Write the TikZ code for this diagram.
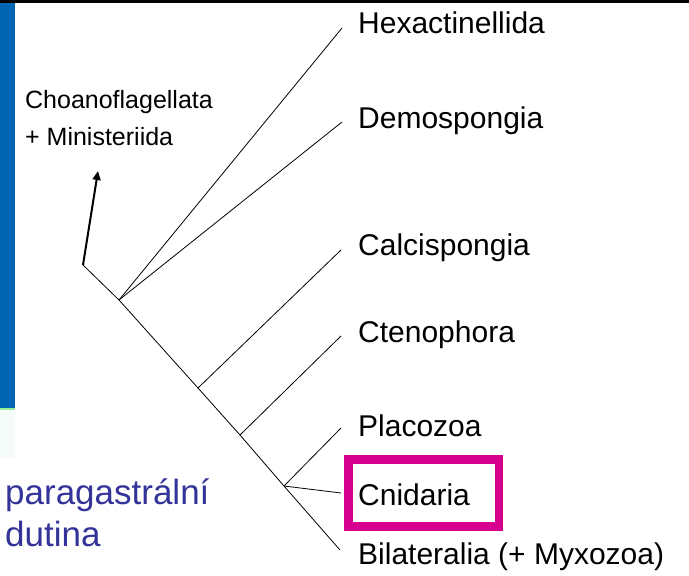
\documentclass[tikz,border=0pt]{standalone}
\usepackage{fontspec}
\setmainfont{Liberation Sans}
\usetikzlibrary{arrows.meta}

\begin{document}
\begin{tikzpicture}[x=1pt, y=-1pt]
    \definecolor{barblue}{RGB}{0,102,179}
    \definecolor{bargreen}{RGB}{150,238,150}
    \definecolor{barmint}{RGB}{246,252,250}
    \definecolor{textblue}{RGB}{51,51,153}
    \definecolor{hilite}{RGB}{214,0,143}
    \tikzset{
        taxon/.style={anchor=base west, inner sep=0pt, font=\fontsize{30}{36}\selectfont},
        outgroup/.style={anchor=base west, inner sep=0pt, font=\fontsize{25}{30}\selectfont},
        remark/.style={anchor=base west, inner sep=0pt, text=textblue, font=\fontsize{35}{42}\selectfont},
        branch/.style={black, line width=0.8pt},
    }
    \useasboundingbox (0,0) rectangle (689,576);

    % slide frame
    \fill[black] (0,0) rectangle (689,3);
    \fill[barblue] (0,3) rectangle (15,408);
    \fill[bargreen] (0,408) rectangle (15,410);
    \fill[barmint] (0,410) rectangle (15,458);

    % junctions
    \coordinate (root) at (83,265);
    \coordinate (sponges) at (119,300);
    \coordinate (j1) at (198,388);
    \coordinate (j2) at (240,435);
    \coordinate (j3) at (284,486);

    % tips
    \coordinate (out) at (98,171);
    \coordinate (t1) at (342,28);
    \coordinate (t2) at (342,122);
    \coordinate (t3) at (341,250);
    \coordinate (t4) at (341,336);
    \coordinate (t5) at (341,428);
    \coordinate (t6) at (341,493);
    \coordinate (t7) at (340,550);

    % labels
    \node[taxon] (hexa) at (358,33) {Hexactinellida};
    \node[taxon] (demo) at (358,128) {Demospongia};
    \node[taxon] (calci) at (358,255) {Calcispongia};
    \node[taxon] (cteno) at (358,342) {Ctenophora};
    \node[taxon] (placo) at (358,436) {Placozoa};
    \node[taxon] (cnid) at (358,505) {Cnidaria};
    \node[taxon] (bilat) at (358,564) {Bilateralia (+ Myxozoa)};
    \node[outgroup] (choano) at (25,108) {Choanoflagellata};
    \node[outgroup] (minis) at (25,145) {+ Ministeriida};
    \node[remark] (para) at (5,504) {paragastrální};
    \node[remark] (dutina) at (5,546) {dutina};

    % tree
    \draw[line width=2pt, -{Triangle[length=9pt, width=8pt]}] (root) -- (out);
    \draw[branch] (root) -- (sponges) -- (j1) -- (j2) -- (j3) -- (t7);
    \draw[branch] (sponges) -- (t1);
    \draw[branch] (sponges) -- (t2);
    \draw[branch] (j1) -- (t3);
    \draw[branch] (j2) -- (t4);
    \draw[branch] (j3) -- (t5);
    \draw[branch] (j3) -- (t6);

    % highlight
    \draw[hilite, line width=8.5pt] (348.5,459.5) rectangle (499,526.5);
\end{tikzpicture}
\end{document}
